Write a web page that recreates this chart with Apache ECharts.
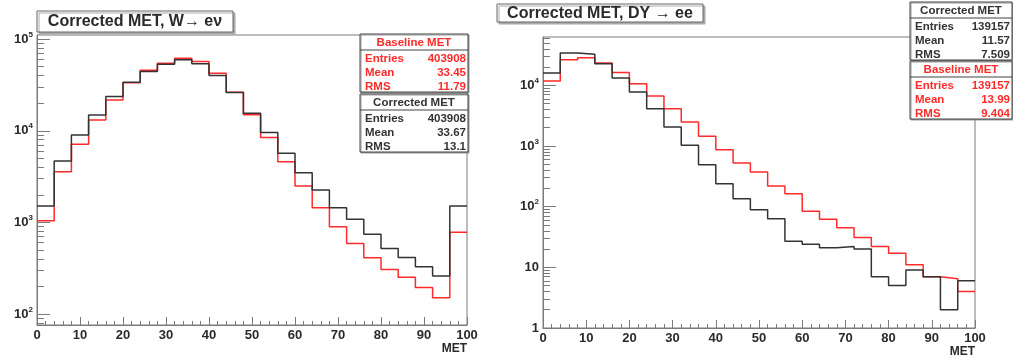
<!DOCTYPE html>
<html>
<head>
<meta charset="utf-8">
<script src="https://cdn.jsdelivr.net/npm/echarts@6/dist/echarts.min.js"></script>
<style>
  html, body { margin: 0; padding: 0; background: #fff; }
  #chart { width: 1013px; height: 362px; }
</style>
</head>
<body>
<div id="chart"></div>
<script>
// ---------------- data ----------------
const binLow = [0, 4, 8, 12, 16, 20, 24, 28, 32, 36, 40, 44, 48, 52, 56, 60, 64, 68, 72, 76, 80, 84, 88, 92, 96];
const binEnd = 100;
const xTicks = [0, 10, 20, 30, 40, 50, 60, 70, 80, 90, 100];

// W -> e nu
const wenuCorrected = [1510, 4680, 9000, 14900, 23600, 33900, 44400, 53300, 59500, 54000, 40100, 26100, 15500, 9550, 5680, 3490, 2250, 1445, 1080, 740, 520, 414, 328, 259, 1510];
const wenuBaseline  = [1040, 3580, 7110, 13100, 21700, 33500, 45700, 54700, 62000, 57000, 42500, 26300, 15000, 8420, 4600, 2500, 1445, 897, 589, 411, 306, 251, 195, 150, 778];

// DY -> ee
const dyCorrected = [15960, 34100, 32400, 22700, 13200, 7770, 4120, 2060, 1025, 492, 239, 135, 89, 63, 27, 24, 21, 22, 20, 7, 5, 9, 7, 2, 6];
const dyBaseline  = [11790, 26500, 28600, 23300, 16200, 10650, 6670, 4120, 2490, 1443, 871, 525, 372, 219, 164, 84, 62, 45, 31, 22, 17, 11, 7, 6.5, 4];

// y ranges (decades labelled)
const wenuYRange = [75.8, 111000];
const wenuDecades = [2, 3, 4, 5];
const dyYRange = [1, 62600];
const dyDecades = [0, 1, 2, 3, 4];

const titleLeft = 'Corrected MET, W\u2192 e\u03bd';
const titleRight = 'Corrected MET, DY \u2192 ee';
const xName = 'MET';

const statsWenuBaseline  = [['Entries', '403908'], ['Mean', '33.45'], ['RMS', '11.79']];
const statsWenuCorrected = [['Entries', '403908'], ['Mean', '33.67'], ['RMS', '13.1']];
const statsDyCorrected   = [['Entries', '139157'], ['Mean', '11.57'], ['RMS', '7.509']];
const statsDyBaseline    = [['Entries', '139157'], ['Mean', '13.99'], ['RMS', '9.404']];

// ---------------- helpers ----------------
const FONT = 'Liberation Sans, Arial, Helvetica, sans-serif';
const TXT = '#2a2a2a';
const FRAME = '#7a7a7a';
const BLACK = '#333333';
const RED = '#ff2a2a';

function histPoints(vals) {
  const pts = binLow.map((x, i) => [x, vals[i]]);
  pts.push([binEnd, vals[vals.length - 1]]);
  return pts;
}
function minorLogs(range) {
  const out = [];
  const lo = Math.floor(Math.log10(range[0])), hi = Math.ceil(Math.log10(range[1]));
  for (let n = lo; n <= hi; n++) {
    for (let k = 2; k <= 9; k++) {
      const v = Math.log10(k) + n;
      if (v >= Math.log10(range[0]) && v <= Math.log10(range[1])) out.push(v);
    }
  }
  return out;
}
function decadeLabel(v) {
  const n = Math.round(v);
  if (n === 0) return '1';
  if (n === 1) return '10';
  return '{b|10}{s|' + n + '}';
}
const richLabel = {
  b: { fontSize: 13, fontWeight: 'bold', fontFamily: FONT, color: TXT },
  s: { fontSize: 8, fontWeight: 'bold', fontFamily: FONT, color: TXT, padding: [0, 0, 9, 0] }
};

function xAxisFor(gridIndex) {
  return {
    type: 'value', gridIndex, min: 0, max: 100, interval: 10,
    axisLine: { lineStyle: { color: FRAME, width: 1 } },
    axisTick: { inside: true, length: 8, lineStyle: { color: FRAME } },
    minorTick: { show: true, splitNumber: 5, length: 4, lineStyle: { color: FRAME } },
    axisLabel: { fontFamily: FONT, fontWeight: 'bold', fontSize: 13, color: TXT, margin: 4,
                 customValues: xTicks },
    splitLine: { show: false }
  };
}
function yAxesFor(gridIndex, range, decades) {
  const lmin = Math.log10(range[0]), lmax = Math.log10(range[1]);
  return [
    { type: 'log', logBase: 10, gridIndex, min: range[0], max: range[1], position: 'left',
      axisLine: { show: true, lineStyle: { color: FRAME, width: 1 } },
      axisTick: { show: false }, axisLabel: { show: false }, splitLine: { show: false } },
    { type: 'value', gridIndex, min: lmin, max: lmax, position: 'left',
      axisLine: { show: false },
      axisTick: { show: true, inside: true, length: 13, customValues: decades, lineStyle: { color: FRAME } },
      axisLabel: { show: true, margin: 4, customValues: decades, formatter: decadeLabel, rich: richLabel,
                   fontFamily: FONT, fontWeight: 'bold', fontSize: 13, color: TXT },
      splitLine: { show: false } },
    { type: 'value', gridIndex, min: lmin, max: lmax, position: 'left',
      axisLine: { show: false },
      axisTick: { show: true, inside: true, length: 7, customValues: minorLogs(range), lineStyle: { color: FRAME } },
      axisLabel: { show: false },
      splitLine: { show: false } }
  ];
}
function histSeries(name, vals, color, xi, yi) {
  return {
    name, type: 'line', step: 'end', xAxisIndex: xi, yAxisIndex: yi,
    data: histPoints(vals), symbol: 'none', clip: true, animation: false,
    lineStyle: { color, width: 1.5 }
  };
}
function statsBox(x, y, w, color, title, rows) {
  const h = 58;
  const children = [
    { type: 'rect', shape: { x: 0, y: 0, width: w, height: h },
      style: { fill: '#fff', stroke: '#444', lineWidth: 1, shadowColor: '#999', shadowOffsetX: 1, shadowOffsetY: 1 } },
    { type: 'line', shape: { x1: 0, y1: 16, x2: w, y2: 16 }, style: { stroke: '#444', lineWidth: 1.2 } },
    { type: 'text', x: w / 2, y: 8.5,
      style: { text: title, fill: color, font: 'bold 11.5px ' + FONT, align: 'center', verticalAlign: 'middle' } }
  ];
  rows.forEach((r, i) => {
    const cy = 24.5 + i * 14;
    children.push({ type: 'text', x: 5, y: cy,
      style: { text: r[0], fill: color, font: 'bold 11.5px ' + FONT, align: 'left', verticalAlign: 'middle' } });
    children.push({ type: 'text', x: w - 2, y: cy,
      style: { text: r[1], fill: color, font: 'bold 11.5px ' + FONT, align: 'right', verticalAlign: 'middle' } });
  });
  return { type: 'group', x, y, z: 100, children };
}
function titleBox(x, y, w, h, text) {
  return { type: 'group', x, y, z: 100, children: [
    { type: 'rect', shape: { x: 0, y: 0, width: w, height: h },
      style: { fill: '#fff', stroke: '#666', lineWidth: 1, shadowColor: '#aaa', shadowOffsetX: 2, shadowOffsetY: 2 } },
    { type: 'text', x: w / 2, y: h / 2 + 0.5,
      style: { text, fill: TXT, font: 'bold 16px ' + FONT, align: 'center', verticalAlign: 'middle' } }
  ] };
}

// ---------------- chart ----------------
const chart = echarts.init(document.getElementById('chart'), null, { renderer: 'canvas' });
chart.setOption({
  animation: false,
  backgroundColor: '#fff',
  grid: [
    { left: 37, right: 546, top: 35, bottom: 37, show: true, borderColor: FRAME, borderWidth: 1, backgroundColor: 'transparent' },
    { left: 543, right: 38, top: 37, bottom: 34, show: true, borderColor: FRAME, borderWidth: 1, backgroundColor: 'transparent' }
  ],
  xAxis: [xAxisFor(0), xAxisFor(1)],
  yAxis: [].concat(yAxesFor(0, wenuYRange, wenuDecades), yAxesFor(1, dyYRange, dyDecades)),
  series: [
    histSeries('Baseline MET', wenuBaseline, RED, 0, 0),
    histSeries('Corrected MET', wenuCorrected, BLACK, 0, 0),
    histSeries('Baseline MET', dyBaseline, RED, 1, 3),
    histSeries('Corrected MET', dyCorrected, BLACK, 1, 3)
  ],
  graphic: [
    titleBox(37, 11, 196, 21, titleLeft),
    titleBox(497, 4, 206, 18, titleRight),
    statsBox(360, 34, 108, RED, 'Baseline MET', statsWenuBaseline),
    statsBox(360, 94, 108, BLACK, 'Corrected MET', statsWenuCorrected),
    statsBox(910, 2, 102, BLACK, 'Corrected MET', statsDyCorrected),
    statsBox(910, 61, 102, RED, 'Baseline MET', statsDyBaseline),
    { type: 'text', x: 467, y: 349, z: 100,
      style: { text: xName, fill: TXT, font: 'bold 12px ' + FONT, align: 'right', verticalAlign: 'middle' } },
    { type: 'text', x: 975, y: 352, z: 100,
      style: { text: xName, fill: TXT, font: 'bold 12px ' + FONT, align: 'right', verticalAlign: 'middle' } }
  ]
});
</script>
</body>
</html>
